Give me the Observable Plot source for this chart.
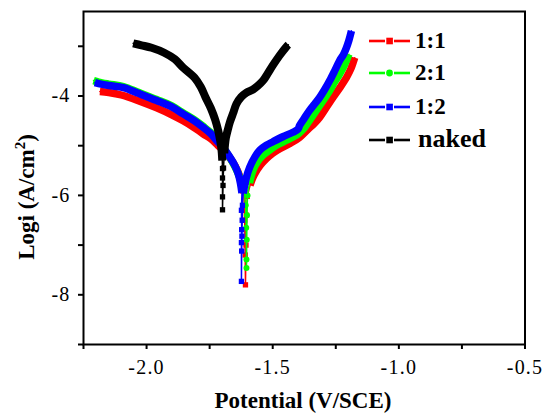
<!DOCTYPE html>
<html>
<head>
<meta charset="utf-8">
<script src="https://cdn.jsdelivr.net/npm/d3@7"></script>
<script src="https://cdn.jsdelivr.net/npm/@observablehq/plot@0.6"></script>
<style>
  html, body { margin: 0; padding: 0; background: #fff; }
  #chart { width: 543px; height: 413px; }
</style>
</head>
<body>
<div id="chart"></div>
<script>
// ---- data (potential in V/SCE, log i in A/cm2) ----
const seriesNames = ["1:1", "2:1", "1:2", "naked"];

const potential11 = [-2.185, -2.15, -2.10, -2.03, -1.96, -1.90, -1.855, -1.81, -1.776, -1.745,
  -1.716, -1.69, -1.666, -1.648, -1.632, -1.622, -1.614, -1.611, -1.609, -1.608,
  -1.606, -1.604, -1.601, -1.59, -1.575, -1.55, -1.525, -1.50, -1.472, -1.43,
  -1.393, -1.36, -1.335, -1.314, -1.29, -1.261, -1.235, -1.208, -1.19, -1.175];
const logi11 = [-3.91, -3.93, -3.98, -4.10, -4.24, -4.38, -4.50, -4.64, -4.76, -4.86,
  -5.00, -5.12, -5.27, -5.42, -5.60, -5.78, -5.95, -6.5, -7.2, -7.8,
  -7.0, -6.4, -6.02, -5.8, -5.6, -5.4, -5.26, -5.15, -5.06, -4.95,
  -4.83, -4.67, -4.55, -4.43, -4.25, -4.03, -3.84, -3.63, -3.45, -3.23];

const potential21 = [-2.21, -2.19, -2.15, -2.092, -2.03, -1.96, -1.90, -1.855, -1.81, -1.776,
  -1.745, -1.723, -1.695, -1.67, -1.65, -1.632, -1.62, -1.612, -1.607, -1.605,
  -1.604, -1.604, -1.603, -1.602, -1.600, -1.592, -1.578, -1.56, -1.538, -1.51,
  -1.485, -1.445, -1.406, -1.39, -1.373, -1.35, -1.327, -1.30, -1.274, -1.255,
  -1.235, -1.215, -1.198];
const logi21 = [-3.69, -3.72, -3.76, -3.81, -3.93, -4.07, -4.20, -4.34, -4.48, -4.61,
  -4.74, -4.87, -5.05, -5.24, -5.42, -5.62, -5.80, -5.93, -6.2, -6.65,
  -7.29, -7.46, -6.89, -6.4, -6.0, -5.75, -5.49, -5.32, -5.19, -5.08,
  -4.99, -4.89, -4.79, -4.72, -4.63, -4.46, -4.29, -4.09, -3.89, -3.72,
  -3.56, -3.37, -3.16];

const potential12 = [-2.205, -2.19, -2.15, -2.092, -2.03, -1.96, -1.90, -1.855, -1.81, -1.776,
  -1.745, -1.723, -1.695, -1.67, -1.65, -1.637, -1.628, -1.622, -1.624, -1.623,
  -1.624, -1.624, -1.623, -1.622, -1.621, -1.620, -1.617, -1.605, -1.591, -1.57,
  -1.551, -1.525, -1.499, -1.46, -1.42, -1.40, -1.393, -1.375, -1.354, -1.334,
  -1.314, -1.294, -1.274, -1.255, -1.235, -1.22, -1.208, -1.198, -1.188];
const logi12 = [-3.73, -3.75, -3.79, -3.83, -3.95, -4.09, -4.22, -4.36, -4.50, -4.63,
  -4.76, -4.89, -5.05, -5.23, -5.40, -5.56, -5.75, -5.95, -6.3, -6.69,
  -6.95, -7.73, -7.12, -6.82, -6.5, -6.2, -5.96, -5.65, -5.43, -5.22,
  -5.09, -4.99, -4.92, -4.82, -4.73, -4.67, -4.59, -4.45, -4.29, -4.16,
  -4.03, -3.87, -3.69, -3.50, -3.29, -3.17, -3.03, -2.88, -2.69];

const potentialNaked = [-2.053, -2.02, -1.98, -1.93, -1.888, -1.855, -1.81, -1.785, -1.766, -1.745,
  -1.728, -1.716, -1.708, -1.703, -1.700, -1.699, -1.699, -1.699, -1.699, -1.697,
  -1.695, -1.692, -1.686, -1.678, -1.67, -1.655, -1.644, -1.625, -1.604, -1.578,
  -1.56, -1.538, -1.52, -1.499, -1.472, -1.446, -1.438];
const logiNaked = [-2.94, -2.98, -3.03, -3.13, -3.26, -3.43, -3.63, -3.82, -4.03, -4.25,
  -4.48, -4.70, -4.90, -5.08, -5.30, -5.46, -5.65, -6.03, -6.29, -5.8,
  -5.45, -5.15, -4.85, -4.68, -4.53, -4.32, -4.16, -4.02, -3.93, -3.87,
  -3.80, -3.69, -3.55, -3.38, -3.18, -3.01, -2.97];

const xMajorTicks = [-2.0, -1.5, -1.0, -0.5];
const xMinorTicks = [-2.25, -1.75, -1.25, -0.75];
const yMajorTicks = [-8, -6, -4];
const yMinorTicks = [-9, -7, -5, -3];
const xTitle = "Potential (V/SCE)";
const yTitle = "Logi (A/cm";
const yTitleSup = "2";

// ---- styles ----
const FONT = "'Liberation Serif', 'Times New Roman', serif";
const series = [
  {name: seriesNames[0], v: potential11, L: logi11, color: "#ff0000", symbol: "square", thinBelow: -5.98, width: 7.5},
  {name: seriesNames[1], v: potential21, L: logi21, color: "#00ff00", symbol: "circle", thinBelow: -5.95, width: 7.5},
  {name: seriesNames[2], v: potential12, L: logi12, color: "#0000ff", symbol: "square", thinBelow: -5.97, width: 7.5},
  {name: seriesNames[3], v: potentialNaked, L: logiNaked, color: "#000000", symbol: "square", thinBelow: -5.35, width: 8}
];

const marks = [];
for (const s of series) {
  const rows = s.v.map((v, i) => ({v, L: s.L[i]}));
  marks.push(Plot.line(rows, {x: "v", y: "L", stroke: s.color, strokeWidth: 1.5}));
  marks.push(Plot.line(rows, {
    x: "v", y: d => (d.L >= s.thinBelow ? d.L : NaN),
    curve: "catmull-rom",
    stroke: s.color, strokeWidth: s.width, strokeLinejoin: "round", strokeLinecap: "butt"
  }));
  marks.push(Plot.dot(rows.filter(d => d.L < s.thinBelow), {
    x: "v", y: "L", symbol: s.symbol, r: 3, fill: s.color, stroke: "none"
  }));
}

const plot = Plot.plot({
  width: 543,
  height: 413,
  marginLeft: 83,
  marginRight: 18.5,
  marginTop: 11,
  marginBottom: 69,
  style: {fontFamily: FONT, background: "#fff", color: "#000", overflow: "visible"},
  x: {domain: [-2.25, -0.5]},
  y: {domain: [-9, -2.3]},
  marks: [
    ...marks,
    Plot.axisX({ticks: xMajorTicks, tickSize: 5, tickPadding: 10, tickFormat: d => d.toFixed(1), fontSize: 20, label: null, strokeWidth: 2}),
    Plot.axisX({ticks: xMinorTicks, tickSize: 5, tickFormat: () => "", label: null, strokeWidth: 2}),
    Plot.axisY({ticks: yMajorTicks, tickSize: 5, tickPadding: 8, tickFormat: d => String(d), fontSize: 20, label: null, strokeWidth: 2}),
    Plot.axisY({ticks: yMinorTicks, tickSize: 5, tickFormat: () => "", label: null, strokeWidth: 2}),
    Plot.frame({stroke: "#000", strokeWidth: 2})
  ]
});

const svg = d3.select(plot);

// tick label typography (slightly widened, as in the source figure)
svg.selectAll('g[aria-label="x-axis tick label"], g[aria-label="y-axis tick label"]')
  .style("font-family", FONT)
  .style("font-size", "20px")
  .style("letter-spacing", "1.2px");

// axis titles
svg.append("text")
  .attr("x", 303).attr("y", 408)
  .attr("text-anchor", "middle")
  .attr("font-family", FONT).attr("font-weight", "bold").attr("font-size", 23)
  .attr("fill", "#000")
  .text(xTitle);

const yt = svg.append("text")
  .attr("transform", "translate(34,197) rotate(-90)")
  .attr("text-anchor", "middle")
  .attr("font-family", FONT).attr("font-weight", "bold").attr("font-size", 23)
  .attr("fill", "#000");
yt.append("tspan").text(yTitle);
yt.append("tspan").attr("font-size", 15).attr("dy", -9).text(yTitleSup);
yt.append("tspan").attr("dy", 9).text(")");

// legend
const lg = svg.append("g").attr("text-anchor", "start");
const rowY = [41, 73, 107, 140];
series.forEach((s, i) => {
  const y = rowY[i];
  const g = lg.append("g");
  g.append("line").attr("x1", 369).attr("x2", 385).attr("y1", y).attr("y2", y)
    .attr("stroke", s.color).attr("stroke-width", 2.6);
  g.append("line").attr("x1", 394).attr("x2", 410).attr("y1", y).attr("y2", y)
    .attr("stroke", s.color).attr("stroke-width", 2.6);
  if (s.symbol === "circle") {
    g.append("circle").attr("cx", 389.5).attr("cy", y).attr("r", 3.4).attr("fill", s.color);
  } else {
    g.append("rect").attr("x", 386.3).attr("y", y - 3.3).attr("width", 6.6).attr("height", 6.6).attr("fill", s.color);
  }
  const isLast = i === series.length - 1;
  g.append("text")
    .attr("text-anchor", "start")
    .attr("x", isLast ? 418 : 415).attr("y", y + (isLast ? 7 : 6.5))
    .attr("font-family", FONT).attr("font-weight", "bold")
    .attr("font-size", isLast ? 26 : 23)
    .attr("fill", "#000")
    .text(s.name);
});

document.getElementById("chart").appendChild(plot);
</script>
</body>
</html>
